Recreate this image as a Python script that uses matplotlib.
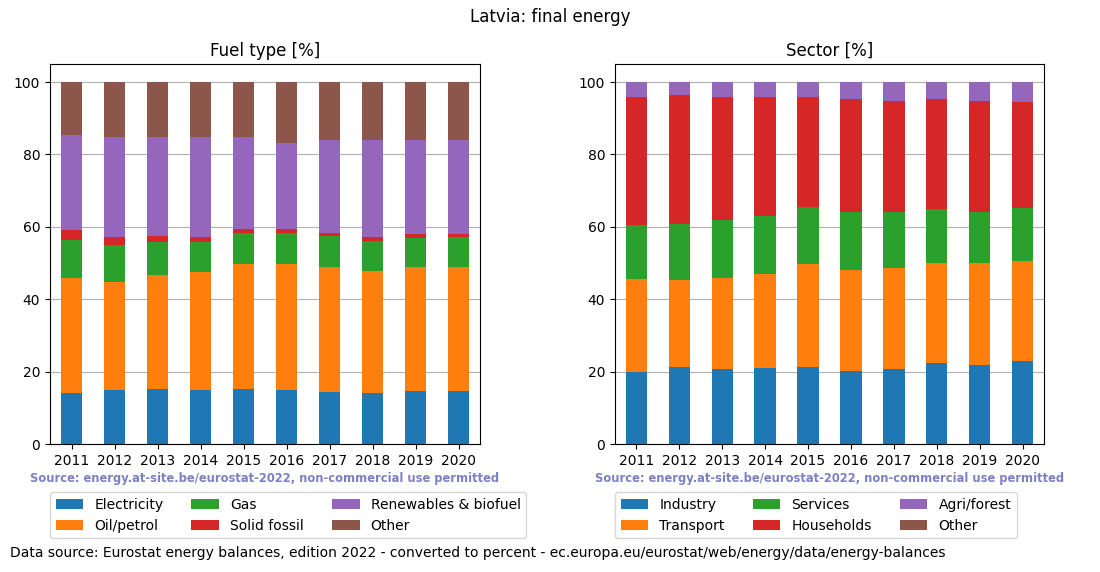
import matplotlib
matplotlib.use("Agg")
import matplotlib.pyplot as plt
import numpy as np

years = ["2011", "2012", "2013", "2014", "2015", "2016", "2017", "2018", "2019", "2020"]

fuel_labels = ["Electricity", "Oil/petrol", "Gas", "Solid fossil", "Renewables & biofuel", "Other"]
electricity = [14.2, 15.0, 15.3, 15.0, 15.3, 15.0, 14.5, 14.2, 14.7, 14.7]
oil_petrol = [31.8, 29.9, 31.5, 32.4, 34.3, 34.6, 34.5, 33.7, 34.1, 34.1]
gas = [10.5, 10.2, 9.1, 8.5, 8.6, 8.8, 8.6, 8.3, 8.0, 8.5]
solid_fossil = [2.5, 2.2, 1.7, 1.4, 1.1, 0.9, 0.8, 1.1, 1.1, 0.6]
renewables = [26.5, 27.6, 27.3, 27.6, 25.6, 24.0, 25.5, 26.8, 26.2, 26.2]
fuel_other = [14.5, 15.1, 15.1, 15.1, 15.1, 16.7, 16.1, 15.9, 15.9, 15.9]

sector_labels = ["Industry", "Transport", "Services", "Households", "Agri/forest", "Other"]
industry = [20.0, 21.4, 20.6, 21.1, 21.4, 20.3, 20.6, 22.5, 21.9, 23.0]
transport = [25.7, 23.8, 25.4, 26.0, 28.2, 27.9, 27.9, 27.4, 28.0, 27.7]
services = [14.9, 15.7, 16.0, 16.0, 16.0, 16.0, 15.7, 14.9, 14.3, 14.4]
households = [35.4, 35.4, 34.0, 32.9, 30.2, 31.0, 30.7, 30.4, 30.5, 29.3]
agri_forest = [4.0, 3.7, 4.0, 4.0, 4.2, 4.8, 5.1, 4.8, 5.3, 5.6]
sector_other = [0.0, 0.0, 0.0, 0.0, 0.0, 0.0, 0.0, 0.0, 0.0, 0.0]

colors = ["#1f77b4", "#ff7f0e", "#2ca02c", "#d62728", "#9467bd", "#8c564b"]

fig = plt.figure(figsize=(11, 5.72), dpi=100)
ax1 = fig.add_axes([50/1100, 1-444/572, 430/1100, 380/572])
ax2 = fig.add_axes([615/1100, 1-444/572, 429/1100, 380/572])

def stacked(ax, series, labels, title):
    x = np.arange(len(years))
    bottom = np.zeros(len(years))
    for s, lab, c in zip(series, labels, colors):
        ax.bar(x, s, 0.5, bottom=bottom, color=c, label=lab, zorder=2)
        bottom += np.array(s)
    ax.set_xlim(-0.5, len(years) - 0.5)
    ax.set_ylim(0, 105)
    ax.set_xticks(x)
    ax.set_xticklabels(years, rotation=0)
    ax.set_yticks([0, 20, 40, 60, 80, 100])
    ax.yaxis.grid(True, color="#b0b0b0", zorder=0)
    ax.set_axisbelow(True)
    ax.set_title(title, fontsize=12)
    ax.text(0.5, -0.09, "Source: energy.at-site.be/eurostat-2022, non-commercial use permitted",
            transform=ax.transAxes, ha="center", va="center", fontsize=8.3,
            fontweight="bold", color="#7f7fc4")
    ax.legend(loc="upper left", bbox_to_anchor=(0, -0.127), ncol=3, borderaxespad=0,
              fontsize=10, frameon=True)

stacked(ax1, [electricity, oil_petrol, gas, solid_fossil, renewables, fuel_other],
        fuel_labels, "Fuel type [%]")
stacked(ax2, [industry, transport, services, households, agri_forest, sector_other],
        sector_labels, "Sector [%]")

fig.suptitle("Latvia: final energy", fontsize=12, y=1-17/572, va="center")
fig.text(10/1100, 1-553/572,
         "Data source: Eurostat energy balances, edition 2022 - converted to percent - ec.europa.eu/eurostat/web/energy/data/energy-balances",
         ha="left", va="center", fontsize=10)

fig.savefig("out.png", dpi=100)
